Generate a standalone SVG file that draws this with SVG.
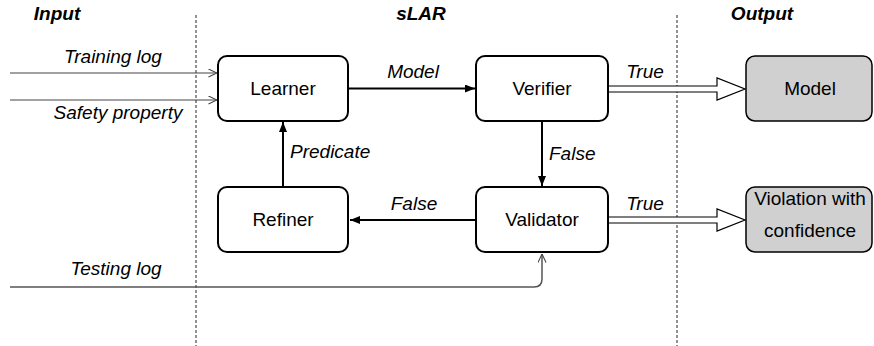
<svg xmlns="http://www.w3.org/2000/svg" width="874" height="346" viewBox="0 0 874 346">
<style>
  text { font-family: "Liberation Sans", Arial, sans-serif; font-size: 19px; fill: #000; }
  .head { font-weight: bold; font-style: italic; text-anchor: middle; }
  .lbl { font-style: italic; }
  .c { text-anchor: middle; }
  .box { fill: #fff; stroke: #000; stroke-width: 2; }
  .out { fill: #d0d0d0; stroke: #000; stroke-width: 1.5; }
  .sep { stroke: #222; stroke-width: 1; stroke-dasharray: 3 2; fill: none; }
  .main { stroke: #000; stroke-width: 2; fill: none; marker-end: url(#solid); }
  .thin { stroke: #444; stroke-width: 1.2; fill: none; marker-end: url(#open); }
  .hollow { fill: #fff; stroke: #000; stroke-width: 1.2; stroke-linejoin: miter; }
</style>
<defs>
  <marker id="solid" viewBox="0 0 10 10" refX="10" refY="5" markerWidth="10" markerHeight="8" markerUnits="userSpaceOnUse" orient="auto" preserveAspectRatio="none">
    <path d="M0,0 L10,5 L0,10 z" fill="#000"/>
  </marker>
  <marker id="open" viewBox="0 0 10 10" refX="9.5" refY="5" markerWidth="9" markerHeight="9" markerUnits="userSpaceOnUse" orient="auto">
    <path d="M0,0.5 L9.5,5 L0,9.5" fill="none" stroke="#444" stroke-width="1.2"/>
  </marker>
</defs>

<g id="separators">
  <line class="sep" x1="196" y1="15" x2="196" y2="346"/>
  <line class="sep" x1="677" y1="15" x2="677" y2="346"/>
</g>

<g id="headings">
  <text class="head" x="57" y="20">Input</text>
  <text class="head" x="421" y="20">sLAR</text>
  <text class="head" x="762" y="20">Output</text>
</g>

<g id="connectors">
  <path class="thin" d="M10,73 L217,73"/>
  <path class="thin" d="M10,100 L217,100"/>
  <path class="thin" style="stroke:#555;stroke-width:1.5" d="M10,287 L534,287 Q542,287 542,279 L542,254"/>
  <path class="main" d="M348.5,88.5 L475,88.5"/>
  <path class="main" d="M542,122 L542,186"/>
  <path class="main" d="M476,220 L350,220"/>
  <path class="main" d="M283,187 L283,122"/>
  <path class="hollow" d="M608,86 L717,86 L717,78 L745,89 L717,100 L717,92 L608,92"/>
  <path class="hollow" d="M608,217 L717,217 L717,209 L745,220 L717,231 L717,223 L608,223"/>
  <text class="lbl" x="113" y="63" text-anchor="middle">Training log</text>
  <text class="lbl" x="118" y="119" text-anchor="middle">Safety property</text>
  <text class="lbl" x="116" y="275" text-anchor="middle">Testing log</text>
  <text class="lbl" x="413" y="78" text-anchor="middle">Model</text>
  <text class="lbl" x="645" y="78" text-anchor="middle">True</text>
  <text class="lbl" x="549" y="160">False</text>
  <text class="lbl" x="290" y="158">Predicate</text>
  <text class="lbl" x="414" y="210" text-anchor="middle">False</text>
  <text class="lbl" x="645" y="210" text-anchor="middle">True</text>
</g>

<g id="learner">
  <rect class="box" x="218" y="56" width="130" height="65" rx="9"/>
  <text class="c" x="283" y="95">Learner</text>
</g>
<g id="verifier">
  <rect class="box" x="476" y="56" width="132" height="65" rx="9"/>
  <text class="c" x="542" y="95">Verifier</text>
</g>
<g id="model">
  <rect class="out" x="746" y="56" width="126" height="65" rx="9"/>
  <text class="c" x="810" y="95">Model</text>
</g>
<g id="refiner">
  <rect class="box" x="218" y="187" width="130" height="65" rx="9"/>
  <text class="c" x="283" y="226">Refiner</text>
</g>
<g id="validator">
  <rect class="box" x="476" y="187" width="132" height="65" rx="9"/>
  <text class="c" x="542" y="226">Validator</text>
</g>
<g id="violation">
  <rect class="out" x="746" y="187" width="126" height="65" rx="9"/>
  <text class="c" x="810" y="205">Violation with</text>
  <text class="c" x="810" y="237">confidence</text>
</g>
</svg>
